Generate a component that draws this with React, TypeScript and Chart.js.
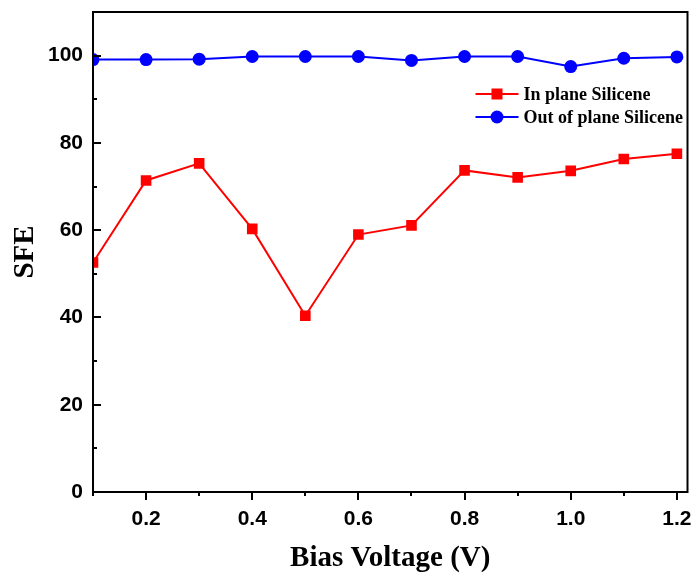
import { useEffect, useRef } from 'react';
import { Chart, registerables } from 'chart.js';

Chart.register(...registerables);

const biasVoltage = [0.1, 0.2, 0.3, 0.4, 0.5, 0.6, 0.7, 0.8, 0.9, 1.0, 1.1, 1.2];
const inPlaneSFE = [52.6, 71.4, 75.3, 60.3, 40.4, 59.0, 61.1, 73.7, 72.1, 73.6, 76.3, 77.5];
const outOfPlaneSFE = [99.1, 99.1, 99.2, 99.8, 99.8, 99.8, 98.9, 99.8, 99.8, 97.5, 99.4, 99.7];
const xTickValues = [0.1, 0.2, 0.3, 0.4, 0.5, 0.6, 0.7, 0.8, 0.9, 1.0, 1.1, 1.2];
const yTickValues = [0, 10, 20, 30, 40, 50, 60, 70, 80, 90, 100];
const seriesNames = ['In plane Silicene', 'Out of plane Silicene'];

const SERIF = '"Liberation Serif", "Times New Roman", serif';
const SANS = '"Liberation Sans", Arial, sans-serif';

const frameTicksLegend = {
  id: 'frameTicksLegend',
  afterDraw(chart: any) {
    const { ctx, chartArea, scales } = chart;
    const { left, right, top, bottom } = chartArea;
    const x = scales.x;
    const y = scales.y;
    ctx.save();
    ctx.strokeStyle = '#000';
    ctx.lineWidth = 2;
    ctx.strokeRect(left, top, right - left, bottom - top);
    ctx.lineWidth = 2;
    yTickValues.forEach((v) => {
      const py = Math.round(y.getPixelForValue(v));
      const len = v % 20 === 0 ? 8 : 4;
      ctx.beginPath();
      ctx.moveTo(left, py);
      ctx.lineTo(left + len, py);
      ctx.stroke();
    });
    xTickValues.forEach((v) => {
      const px = Math.round(x.getPixelForValue(v));
      const len = Math.round(v * 10) % 2 === 0 ? 8 : 4;
      ctx.beginPath();
      ctx.moveTo(px, bottom);
      ctx.lineTo(px, bottom + len);
      ctx.stroke();
    });
    // legend
    const lx0 = right - 212;
    const lx1 = right - 169;
    const rows = [top + 82, top + 105];
    chart.data.datasets.forEach((ds: any, i: number) => {
      const ry = rows[i];
      ctx.strokeStyle = ds.borderColor;
      ctx.lineWidth = 2;
      ctx.beginPath();
      ctx.moveTo(lx0, ry);
      ctx.lineTo(lx1, ry);
      ctx.stroke();
      ctx.fillStyle = ds.backgroundColor;
      const mx = (lx0 + lx1) / 2;
      if (ds.pointStyle === 'rect') {
        ctx.fillRect(mx - 5.5, ry - 5.5, 11, 11);
      } else {
        ctx.beginPath();
        ctx.arc(mx, ry, 6.5, 0, Math.PI * 2);
        ctx.fill();
      }
      ctx.fillStyle = '#000';
      ctx.font = `bold 18px ${SERIF}`;
      ctx.textBaseline = 'middle';
      ctx.textAlign = 'left';
      ctx.fillText(ds.label, lx1 + 5, ry + 1);
    });
    ctx.restore();
  },
};

export default function App() {
  const ref = useRef<HTMLCanvasElement>(null);
  useEffect(() => {
    if (!ref.current) return;
    const chart = new Chart(ref.current, {
      type: 'line',
      data: {
        datasets: [
          {
            label: seriesNames[0],
            data: biasVoltage.map((v, i) => ({ x: v, y: inPlaneSFE[i] })),
            borderColor: '#ff0000',
            backgroundColor: '#ff0000',
            borderWidth: 2,
            pointStyle: 'rect',
            pointRadius: 7.5,
            pointBorderWidth: 0,
            clip: 0,
          },
          {
            label: seriesNames[1],
            data: biasVoltage.map((v, i) => ({ x: v, y: outOfPlaneSFE[i] })),
            borderColor: '#0000ff',
            backgroundColor: '#0000ff',
            borderWidth: 2,
            pointStyle: 'circle',
            pointRadius: 6.5,
            pointBorderWidth: 0,
            clip: 0,
          },
        ],
      },
      options: {
        responsive: false,
        animation: false,
        layout: { padding: { top: 12, right: 5, left: 0, bottom: 0 } },
        plugins: { legend: { display: false }, tooltip: { enabled: false } },
        scales: {
          x: {
            type: 'linear',
            min: 0.1,
            max: 1.22,
            grid: { display: false, drawTicks: false },
            border: { display: false },
            afterBuildTicks: (s: any) => {
              s.ticks = xTickValues.map((v) => ({ value: v }));
            },
            afterFit: (s: any) => {
              s.height = 84;
              s.paddingLeft = 0;
              s.paddingRight = 0;
            },
            ticks: {
              autoSkip: false,
              maxRotation: 0,
              padding: 15,
              color: '#000',
              font: { family: SANS, size: 21, weight: 'bold' },
              callback: (v: any) => (Math.round(Number(v) * 10) % 2 === 0 ? Number(v).toFixed(1) : ''),
            },
            title: {
              display: true,
              text: 'Bias Voltage (V)',
              color: '#000',
              font: { family: SERIF, size: 29, weight: 'bold' },
              padding: { top: 0, bottom: 0 },
            },
          },
          y: {
            type: 'linear',
            min: 0,
            max: 110,
            grid: { display: false, drawTicks: false },
            border: { display: false },
            afterBuildTicks: (s: any) => {
              s.ticks = yTickValues.map((v) => ({ value: v }));
            },
            afterFit: (s: any) => {
              s.width = 93;
              s.paddingTop = 0;
              s.paddingBottom = 0;
            },
            ticks: {
              autoSkip: false,
              padding: 10,
              color: '#000',
              font: { family: SANS, size: 21, weight: 'bold' },
              callback: (v: any) => (Number(v) % 20 === 0 ? String(v) : ''),
            },
            title: {
              display: true,
              text: 'SFE',
              color: '#000',
              font: { family: SERIF, size: 29, weight: 'bold' },
              padding: { top: 8, bottom: 0 },
            },
          },
        },
      },
      plugins: [frameTicksLegend],
    });
    return () => chart.destroy();
  }, []);
  return (
    <div style={{ position: 'fixed', left: 0, top: 0, width: 695, height: 576, background: '#fff' }}>
      <canvas ref={ref} width={695} height={576} />
    </div>
  );
}
